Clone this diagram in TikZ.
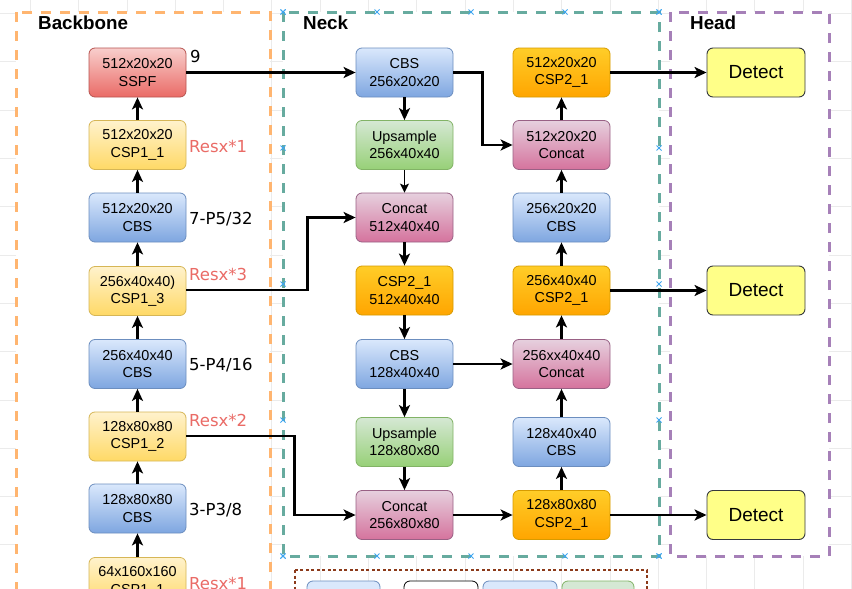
\documentclass[tikz,border=0pt]{standalone}
\usepackage{fontspec}
\setmainfont{Liberation Sans}
\newfontfamily\etiqfont{DejaVu Sans}
\usepackage{xcolor}
\usetikzlibrary{positioning,arrows.meta}

\definecolor{rojoA}{HTML}{F8CECC}
\definecolor{rojoB}{HTML}{EA6B66}
\definecolor{rojoC}{HTML}{B85450}
\definecolor{amaA}{HTML}{FFF2CC}
\definecolor{amaB}{HTML}{FFD966}
\definecolor{amaC}{HTML}{D6B656}
\definecolor{azulA}{HTML}{DAE8FC}
\definecolor{azulB}{HTML}{7EA6E0}
\definecolor{azulC}{HTML}{6C8EBF}
\definecolor{verdeA}{HTML}{D5E8D4}
\definecolor{verdeB}{HTML}{97D077}
\definecolor{verdeC}{HTML}{82B366}
\definecolor{rosaA}{HTML}{E6D0DE}
\definecolor{rosaB}{HTML}{D5739D}
\definecolor{rosaC}{HTML}{996185}
\definecolor{naranjaA}{HTML}{FFCD28}
\definecolor{naranjaB}{HTML}{FFA500}
\definecolor{naranjaC}{HTML}{D79B00}
\definecolor{detA}{HTML}{FFFF88}
\definecolor{detC}{HTML}{36393D}
\definecolor{marcoBack}{HTML}{FFB570}
\definecolor{marcoNeck}{HTML}{67AB9F}
\definecolor{marcoHead}{HTML}{A680B8}
\definecolor{marcoLey}{HTML}{8C3A1A}
\definecolor{cruz}{HTML}{3DA5F0}

\tikzset{
  bloque/.style={draw, rounded corners=6pt, minimum width=97pt, minimum height=49pt,
    align=center, inner sep=2pt, line width=0.8pt, font=\fontsize{14.4}{17.5}\selectfont},
  sspfbox/.style={bloque, top color=rojoA, bottom color=rojoB, draw=rojoC},
  csponebox/.style={bloque, top color=amaA, bottom color=amaB, draw=amaC},
  cbsbox/.style={bloque, top color=azulA, bottom color=azulB, draw=azulC},
  upsbox/.style={bloque, top color=verdeA, bottom color=verdeB, draw=verdeC},
  catbox/.style={bloque, top color=rosaA, bottom color=rosaB, draw=rosaC},
  csptwobox/.style={bloque, top color=naranjaA, bottom color=naranjaB, draw=naranjaC},
  detbox/.style={draw=detC, fill=detA, rounded corners=6pt, minimum width=98pt,
    minimum height=49pt, line width=0.9pt, font=\fontsize{19}{22}\selectfont},
  flecha/.style={line width=2.2pt, -{Stealth[length=12pt,width=11pt,inset=3pt]}},
  flechafina/.style={line width=1.4pt, -{Stealth[length=9pt,width=9pt,inset=2pt]}},
  etiq/.style={anchor=west, inner sep=0pt, font=\etiqfont\fontsize{16.5}{18}\selectfont},
  resx/.style={etiq, text=rojoB},
  titulo/.style={anchor=west, inner sep=0pt, font=\bfseries\fontsize{18.8}{20}\selectfont},
  marco/.style={fill=white, line width=3pt, dash pattern=on 10pt off 9pt},
  marca/.style={draw=cruz, line width=0.8pt},
}

\begin{document}
\begin{tikzpicture}[x=1pt, y=-1pt]
\clip (0,0) rectangle (852,589);
\fill[white] (0,0) rectangle (852,589);

%====================================================
% CUADRICULA DE FONDO
%====================================================
\foreach \k in {0,...,17} \draw[gray!16, line width=0.5pt] (30.2+48.3*\k,0) -- (30.2+48.3*\k,589);
\foreach \k in {0,...,12} \draw[gray!16, line width=0.5pt] (0,13.4+48.3*\k) -- (852,13.4+48.3*\k);

%====================================================
% MARCOS: BACKBONE, NECK, HEAD Y LEYENDA
%====================================================
\draw[marco, draw=marcoBack] (16,12) rectangle (270,640);
\draw[marco, draw=marcoNeck] (283,12) rectangle (659,556);
\draw[marco, draw=marcoHead] (670,12) rectangle (829,556);
\draw[draw=marcoLey, line width=1.2pt, dash pattern=on 3pt off 2.5pt] (295,570) rectangle (647,640);

\node[titulo] (tback) at (38,23) {Backbone};
\node[titulo] (tneck) at (303,23) {Neck};
\node[titulo] (thead) at (690,23) {Head};

% puntos de conexion del marco Neck
\foreach \t in {0,...,4} {
  \pgfmathsetmacro{\mx}{283+94*\t}
  \pgfmathsetmacro{\my}{12+136*\t}
  \foreach \p in {(\mx,12),(\mx,556),(283,\my),(659,\my)}
    \draw[marca] \p ++(-2.5,-2.5) -- ++(5,5) ++(-5,0) -- ++(5,-5);
}

% cajas de la leyenda (cortadas)
\draw[draw=azulC, fill=azulA, rounded corners=6pt, line width=0.8pt] (307,581) rectangle (380,640);
\draw[draw=black, fill=white, rounded corners=6pt, line width=0.8pt] (404,581) rectangle (478,640);
\draw[draw=azulC, fill=azulA, rounded corners=6pt, line width=0.8pt] (483,581) rectangle (557,640);
\draw[draw=verdeC, fill=verdeA, rounded corners=6pt, line width=0.8pt] (562,581) rectangle (634,640);

%====================================================
% BACKBONE
%====================================================
\node[sspfbox]   (sspf)   at (137.5,72.5)  {512x20x20\\SSPF};
\node[csponebox] (cspa)   at (137.5,145)   {512x20x20\\CSP1\_1};
\node[cbsbox]    (cbsc)   at (137.5,217.5) {512x20x20\\CBS};
\node[csponebox] (cspc)   at (137.5,291)   {256x40x40)\\CSP1\_3};
\node[cbsbox]    (cbsb)   at (137.5,364)   {256x40x40\\CBS};
\node[csponebox] (cspb)   at (137.5,436.5) {128x80x80\\CSP1\_2};
\node[cbsbox]    (cbsa)   at (137.5,508.5) {128x80x80\\CBS};
\node[csponebox] (cspz)   at (137.5,582)   {64x160x160\\CSP1\_1};

\node[etiq] (lnueve) at (190,56.5) {9};
\node[resx] (lresa)  at (189,146.5) {Resx*1};
\node[etiq] (lpcinco) at (189,219) {7-P5/32};
\node[resx] (lresc)  at (189,274.5) {Resx*3};
\node[etiq] (lpcuatro) at (189,365) {5-P4/16};
\node[resx] (lresb)  at (189,420) {Resx*2};
\node[etiq] (lptres) at (189,510) {3-P3/8};
\node[resx] (lresz)  at (189,583) {Resx*1};

\draw[flecha] (cspz) -- (cbsa);
\draw[flecha] (cbsa) -- (cspb);
\draw[flecha] (cspb) -- (cbsb);
\draw[flecha] (cbsb) -- (cspc);
\draw[flecha] (cspc) -- (cbsc);
\draw[flecha] (cbsc) -- (cspa);
\draw[flecha] (cspa) -- (sspf);

%====================================================
% NECK
%====================================================
\node[cbsbox]    (ncbsa) at (404.5,72.5)  {CBS\\256x20x20};
\node[upsbox]    (nupsa) at (404.5,145)   {Upsample\\256x40x40};
\node[catbox]    (ncata) at (404.5,217.5) {Concat\\512x40x40};
\node[csptwobox] (ncspa) at (404.5,290.5) {CSP2\_1\\512x40x40};
\node[cbsbox]    (ncbsb) at (404.5,364)   {CBS\\128x40x40};
\node[upsbox]    (nupsb) at (404.5,442)   {Upsample\\128x80x80};
\node[catbox]    (ncatb) at (404.5,515)   {Concat\\256x80x80};

\node[csptwobox] (ocspc) at (561.5,72.5)  {512x20x20\\CSP2\_1};
\node[catbox]    (ocatc) at (561.5,145)   {512x20x20\\Concat};
\node[cbsbox]    (ocbsc) at (561.5,217.5) {256x20x20\\CBS};
\node[csptwobox] (ocspb) at (561.5,290.5) {256x40x40\\CSP2\_1};
\node[catbox]    (ocatb) at (561.5,364)   {256xx40x40\\Concat};
\node[cbsbox]    (ocbsb) at (561.5,442)   {128x40x40\\CBS};
\node[csptwobox] (ocspa) at (561.5,515)   {128x80x80\\CSP2\_1};

\draw[flecha] (sspf.east) -- (ncbsa.west);
\draw[flecha] (ncbsa) -- (nupsa);
\draw[flechafina] (nupsa) -- (ncata);
\draw[flecha] (ncata) -- (ncspa);
\draw[flecha] (ncspa) -- (ncbsb);
\draw[flecha] (ncbsb) -- (nupsb);
\draw[flecha] (nupsb) -- (ncatb);

\draw[flecha] (ncbsa.east) -- ++(29,0) |- (ocatc.west);
\draw[flecha] (cspc.east) ++(0,-1) -- ++(121,0) |- (ncata.west);
\draw[flecha] (cspb.east) ++(0,-0.5) -- ++(108,0) |- (ncatb.west);
\draw[flecha] (ncbsb.east) -- (ocatb.west);
\draw[flecha] (ncatb.east) -- (ocspa.west);

\draw[flecha] (ocspa) -- (ocbsb);
\draw[flecha] (ocbsb) -- (ocatb);
\draw[flecha] (ocatb) -- (ocspb);
\draw[flecha] (ocspb) -- (ocbsc);
\draw[flecha] (ocbsc) -- (ocatc);
\draw[flecha] (ocatc) -- (ocspc);

%====================================================
% HEAD
%====================================================
\node[detbox] (deta) at (756,72.5) {Detect};
\node[detbox] (detb) at (756,290.5) {Detect};
\node[detbox] (detc) at (756,515)  {Detect};

\draw[flecha] (ocspc.east) -- (deta.west);
\draw[flecha] (ocspb.east) -- (detb.west);
\draw[flecha] (ocspa.east) -- (detc.west);
\end{tikzpicture}
\end{document}
